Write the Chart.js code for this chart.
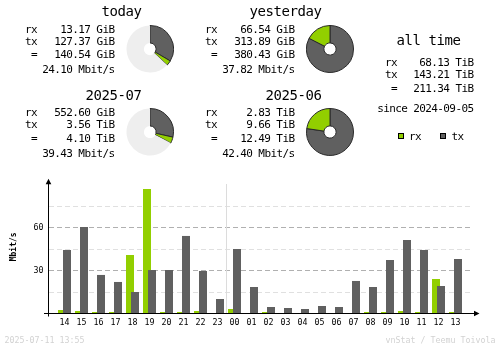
<!DOCTYPE html>
<html><head><meta charset="utf-8">
<script src="https://cdn.jsdelivr.net/npm/chart.js@4/dist/chart.umd.min.js"></script>
<style>
html,body{margin:0;padding:0;background:#fff;}
#wrap{position:relative;width:500px;height:348px;overflow:hidden;background:#fff;}
#wrap canvas{position:absolute;}
.t{position:absolute;white-space:pre;font-family:"DejaVu Sans Mono",monospace;color:#000;}
.sq{position:absolute;width:4px;height:4px;border:1px solid #000;}
</style></head>
<body><div id="wrap"><canvas id="bars" width="500" height="348" style="left:0;top:0"></canvas></div>
<script>
// ---- data ----
const hours  = ['14','15','16','17','18','19','20','21','22','23','00','01','02','03','04','05','06','07','08','09','10','11','12','13'];
const rxRate = [2.4, 1.7, 1.0, 1.0, 40.8, 86.9, 1.0, 1.0, 1.7, 0, 3.1, 0, 1.0, 0, 0, 0, 0, 0, 1.0, 1.0, 1.7, 1.0, 24.1, 1.0];
const txRate = [44.3, 60.3, 26.9, 22.0, 15.0, 30.3, 30.3, 54.1, 29.6, 10.1, 45.0, 18.5, 4.5, 3.8, 3.1, 5.2, 4.5, 22.7, 18.5, 37.3, 51.3, 44.3, 19.2, 38.0];

const periodNames = ['today', 'yesterday', '2025-07', '2025-06'];
const rxAmount    = [13.17, 66.54, 552.60, 2.83];
const rxUnit      = ['GiB', 'GiB', 'GiB', 'TiB'];
const txAmount    = [127.37, 313.89, 3.56, 9.66];
const txUnit      = ['GiB', 'GiB', 'TiB', 'TiB'];
const totalAmount = [140.54, 380.43, 4.10, 12.49];
const totalUnit   = ['GiB', 'GiB', 'TiB', 'TiB'];
const avgRate     = [24.10, 37.82, 39.43, 42.40];
const pieCompareTo = [1, null, 3, null];

const allTimeRx = 68.13, allTimeTx = 143.21, allTimeTotal = 211.34, allTimeUnit = 'TiB';
const sinceDate = '2024-09-05';
const stampText = '2025-07-11 13:55';
const creditText = 'vnStat / Teemu Toivola';

const yMajorStep = 30, yMinorStep = 15, yMax = 93;

// ---- styles ----
const RX = '#92cf00', TX = '#606060', PIE_BG = '#eeeeee', EDGE = '#2a2a2a';
const FONT = '"DejaVu Sans Mono", monospace';
Chart.defaults.font.family = FONT;

const wrap = document.getElementById('wrap');
function addText(str, x, baseline, size, ls, align, color) {
  const el = document.createElement('div');
  el.className = 't';
  el.textContent = str;
  el.style.fontSize = size + 'px';
  el.style.lineHeight = size + 'px';
  el.style.letterSpacing = ls + 'px';
  el.style.top = (baseline - 0.846 * size) + 'px';
  if (color) el.style.color = color;
  if (align === 'right') el.style.right = (500 - x - ls) + 'px';
  else el.style.left = x + 'px';
  wrap.appendChild(el);
}
const unitGiB = {GiB: 1, TiB: 1024};
const fmt = (v, u) => v.toFixed(2) + ' ' + u;

// ---- summary blocks ----
const blocks = [
  {titleRight: 142, titleBase: 15.7, labelX: 25, valRight: 115, rows: [33.8, 45.6, 58.8, 73.8], pie: [126, 25]},
  {titleRight: 322, titleBase: 15.7, labelX: 205, valRight: 295, rows: [33.8, 45.6, 58.8, 73.8], pie: [306, 25]},
  {titleRight: 142, titleBase: 99.5, labelX: 25, valRight: 115, rows: [116.4, 128.8, 142.2, 157.2], pie: [126, 108]},
  {titleRight: 322, titleBase: 99.5, labelX: 205, valRight: 295, rows: [116.4, 128.8, 142.2, 157.2], pie: [306, 108]}
];
const BODY = 11, BODY_LS = -0.62, TITLE = 14, TITLE_LS = -0.43;
periodNames.forEach((name, k) => {
  const b = blocks[k];
  addText(name, b.titleRight, b.titleBase, TITLE, TITLE_LS, 'right');
  addText('rx', b.labelX, b.rows[0], BODY, BODY_LS, 'left');
  addText('tx', b.labelX, b.rows[1], BODY, BODY_LS, 'left');
  addText('=', b.labelX + 6, b.rows[2], BODY, BODY_LS, 'left');
  addText(fmt(rxAmount[k], rxUnit[k]), b.valRight, b.rows[0], BODY, BODY_LS, 'right');
  addText(fmt(txAmount[k], txUnit[k]), b.valRight, b.rows[1], BODY, BODY_LS, 'right');
  addText(fmt(totalAmount[k], totalUnit[k]), b.valRight, b.rows[2], BODY, BODY_LS, 'right');
  addText(avgRate[k].toFixed(2) + ' Mbit/s', b.valRight, b.rows[3], BODY, BODY_LS, 'right');

  // doughnut
  const cv = document.createElement('canvas');
  cv.width = 48; cv.height = 48;
  cv.style.left = b.pie[0] + 'px'; cv.style.top = b.pie[1] + 'px';
  wrap.appendChild(cv);
  const tx = txAmount[k] * unitGiB[txUnit[k]];
  const rx = rxAmount[k] * unitGiB[rxUnit[k]];
  const vals = [tx, rx];
  const cols = [TX, RX], borders = [EDGE, EDGE], bw = [1, 1];
  const ref = pieCompareTo[k];
  if (ref !== null) {
    const refTotal = totalAmount[ref] * unitGiB[totalUnit[ref]];
    const own = totalAmount[k] * unitGiB[totalUnit[k]];
    vals.push(Math.max(refTotal - own, 0));
    cols.push(PIE_BG); borders.push(PIE_BG); bw.push(0);
  }
  new Chart(cv, {
    type: 'doughnut',
    data: {labels: ['tx', 'rx', ''].slice(0, vals.length), datasets: [{data: vals, backgroundColor: cols, borderColor: borders, borderWidth: bw}]},
    options: {responsive: false, animation: false, events: [], devicePixelRatio: 1, cutout: '26%',
      plugins: {legend: {display: false}, tooltip: {enabled: false}}}
  });
});

// ---- all time ----
addText('all time', 461, 44.8, TITLE, TITLE_LS, 'right');
addText('rx', 385, 66.2, BODY, BODY_LS, 'left');
addText('tx', 385, 78.2, BODY, BODY_LS, 'left');
addText('=', 391, 92.2, BODY, BODY_LS, 'left');
addText(fmt(allTimeRx, allTimeUnit), 474, 66.2, BODY, BODY_LS, 'right');
addText(fmt(allTimeTx, allTimeUnit), 474, 78.2, BODY, BODY_LS, 'right');
addText(fmt(allTimeTotal, allTimeUnit), 474, 92.2, BODY, BODY_LS, 'right');
addText('since ' + sinceDate, 474, 112.8, BODY, BODY_LS, 'right');

// legend
function addSquare(x, y, c) {
  const s = document.createElement('div'); s.className = 'sq';
  s.style.left = x + 'px'; s.style.top = y + 'px'; s.style.background = c;
  wrap.appendChild(s);
}
addSquare(398, 133, RX); addText('rx', 409, 140.6, BODY, BODY_LS, 'left');
addSquare(440, 133, TX); addText('tx', 451.5, 140.6, BODY, BODY_LS, 'left');

// footer
addText(stampText, 4.5, 343, 8.3, 0, 'left', '#d2d2d2');
addText(creditText, 495.5, 343, 8.3, 0, 'right', '#d2d2d2');

// ---- hourly bar chart ----
const overlay = {
  id: 'overlay',
  beforeDatasetsDraw(chart) {
    const ctx = chart.ctx, xs = chart.scales.x, {top, bottom} = chart.chartArea;
    const idx = hours.indexOf('00');
    if (idx > 0) {
      const px = Math.floor(xs.getPixelForValue(idx - 0.5));
      ctx.save(); ctx.fillStyle = '#dcdcdc';
      ctx.fillRect(px, Math.round(top) + 4, 1, bottom - Math.round(top) - 4);
      ctx.restore();
    }
  },
  afterDatasetsDraw(chart) {
    // tx bars drawn over rx bars
    chart.getDatasetMeta(1).controller.draw();
  },
  afterDraw(chart) {
    const ctx = chart.ctx, {left, right, top, bottom} = chart.chartArea;
    const ax = Math.round(left - 0.5) + 0.5, ay = Math.round(bottom - 0.5) + 0.5;
    ctx.save();
    ctx.strokeStyle = '#000'; ctx.fillStyle = '#000'; ctx.lineWidth = 1;
    ctx.beginPath();
    ctx.moveTo(ax, top); ctx.lineTo(ax, ay + 3);
    ctx.moveTo(ax - 4.5, ay); ctx.lineTo(right + 2, ay);
    ctx.stroke();
    ctx.beginPath();
    ctx.moveTo(ax, top - 1.5); ctx.lineTo(ax - 2.8, top + 4); ctx.lineTo(ax + 2.8, top + 4); ctx.closePath(); ctx.fill();
    ctx.beginPath();
    ctx.moveTo(right + 7, ay); ctx.lineTo(right + 1.5, ay - 2.8); ctx.lineTo(right + 1.5, ay + 2.8); ctx.closePath(); ctx.fill();
    ctx.restore();
  }
};

// a tick value is drawn (line and label) only if a full minor step still fits below the top
const inRange = v => v > 0 && v + yMinorStep <= yMax;

new Chart(document.getElementById('bars'), {
  type: 'bar',
  data: {datasets: [
    {label: 'rx', data: rxRate.map((v, i) => ({x: i, y: v})), backgroundColor: RX, categoryPercentage: 10 / 17, barPercentage: 1.6},
    {label: 'tx', data: txRate.map((v, i) => ({x: i, y: v})), backgroundColor: TX, categoryPercentage: 10 / 17, barPercentage: 1.6}
  ]},
  options: {
    responsive: false, animation: false, events: [], devicePixelRatio: 1,
    layout: {padding: {left: 0, top: 180.2, right: 27.5, bottom: 14.5}},
    plugins: {legend: {display: false}, tooltip: {enabled: false}},
    scales: {
      x: {
        type: 'linear', min: -16 / 17, max: hours.length, offset: false,
        grid: {display: false, drawTicks: false, offset: false},
        border: {display: true, color: '#000', width: 1, z: 1},
        ticks: {stepSize: 1, includeBounds: false, autoSkip: false, maxRotation: 0, padding: 4,
          font: {size: 8.3}, color: '#000',
          callback: v => (Number.isInteger(v) && v >= 0 && v < hours.length) ? hours[v] : ''},
        afterFit: s => { s.height = 20; }
      },
      y: {
        min: 0, max: yMax,
        grid: {drawTicks: false, lineWidth: 1,
          color: c => {
            const v = c.tick ? c.tick.value : 0;
            if (!inRange(v)) return 'rgba(0,0,0,0)';
            return v % yMajorStep === 0 ? '#b0b0b0' : '#e0e0e0';
          }},
        border: {display: true, color: '#000', width: 1, dash: [5, 3], z: 1},
        ticks: {stepSize: yMinorStep, includeBounds: false, padding: 5, font: {size: 8.3}, color: '#000',
          callback: v => (inRange(v) && v % yMajorStep === 0) ? String(v) : ''},
        title: {display: true, text: 'Mbit/s', color: '#000', font: {size: 8, weight: 'bold'}, padding: {top: 9, bottom: 0}},
        afterFit: s => { s.width = 48.5; }
      }
    }
  },
  plugins: [overlay]
});
</script></body></html>
